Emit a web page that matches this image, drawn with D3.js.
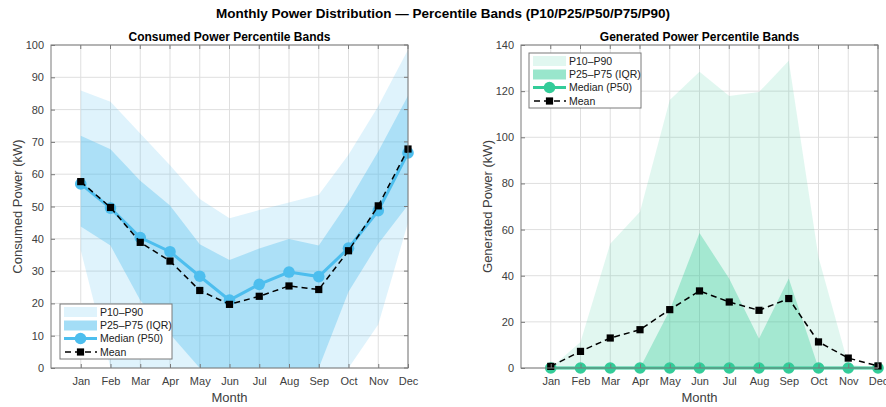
<!DOCTYPE html>
<html>
<head>
<meta charset="utf-8">
<script src="https://cdn.jsdelivr.net/npm/d3@7"></script>
<style>
  html, body { margin: 0; padding: 0; background: #fff; }
  svg { display: block; font-family: "Liberation Sans", Arial, Helvetica, sans-serif; }
</style>
</head>
<body>
<svg id="chart" width="886" height="407"></svg>
<script>
// Month labels shared by both panels
const months = ["Jan","Feb","Mar","Apr","May","Jun","Jul","Aug","Sep","Oct","Nov","Dec"];

// Consumed power percentiles (kW)
const consP10  = [36.5, 0, 0, 0, 0, 0, 0, 0, 0, 0, 13.5, 45];
const consP25  = [43.8, 37.9, 21, 10.5, 0, 0, 0, 0, 0, 23.6, 38.5, 50.5];
const consP50  = [57.0, 49.5, 40.4, 36.0, 28.4, 21.0, 25.9, 29.7, 28.3, 37.1, 48.7, 66.6];
const consP75  = [71.9, 67.7, 58.0, 50.3, 38.3, 33.4, 37.0, 39.9, 37.9, 51.5, 67.0, 84.3];
const consP90  = [85.9, 82.4, 72.6, 62.8, 52.3, 46.4, 48.9, 51.2, 53.6, 66.0, 81.0, 98.5];
const consMean = [57.7, 49.7, 38.9, 33.1, 24.0, 19.7, 22.2, 25.4, 24.3, 36.3, 50.2, 67.8];

// Generated power percentiles (kW)
const genP10  = [0, 0, 0, 0, 0, 0, 0, 0, 0, 0, 0, 0];
const genP25  = [0, 0, 0, 0, 0, 0, 0, 0, 0, 0, 0, 0];
const genP50  = [0, 0, 0, 0, 0, 0, 0, 0, 0, 0, 0, 0];
const genP75  = [0, 0, 0, 0, 25, 58.5, 38.7, 12.7, 38.8, 0, 0, 0];
const genP90  = [0, 11.3, 53.9, 67.7, 116.2, 128.4, 117.9, 119.6, 133.2, 48, 1.5, 0];
const genMean = [0.7, 7.2, 13.0, 16.6, 25.3, 33.4, 28.6, 25.0, 30.1, 11.3, 4.3, 0.9];

// Axis tick values
const consTicks = [0, 10, 20, 30, 40, 50, 60, 70, 80, 90, 100];
const genTicks  = [0, 20, 40, 60, 80, 100, 120, 140];

const svg = d3.select("#chart");

svg.append("text")
  .attr("x", 443).attr("y", 18)
  .attr("text-anchor", "middle")
  .attr("font-size", 13.5).attr("font-weight", "bold").attr("fill", "#000")
  .text("Monthly Power Distribution \u2014 Percentile Bands (P10/P25/P50/P75/P90)");

function panel(opts) {
  const { left, right, top, bottom, yMax, ticks, title, ylabel, color,
          lightAlpha, iqrAlpha, p10, p25, p50, p75, p90, mean, legend } = opts;

  const x = d3.scaleLinear().domain([0, 12]).range([left, right]);
  const y = d3.scaleLinear().domain([0, yMax]).range([bottom, top]);
  const g = svg.append("g");
  const idx = d3.range(months.length);

  // grid
  g.append("g").selectAll("line.v").data(idx).join("line")
    .attr("x1", i => x(i + 1)).attr("x2", i => x(i + 1))
    .attr("y1", top).attr("y2", bottom)
    .attr("stroke", "#dfdfdf").attr("stroke-width", 1);
  g.append("g").selectAll("line.h").data(ticks).join("line")
    .attr("x1", left).attr("x2", right)
    .attr("y1", d => y(d)).attr("y2", d => y(d))
    .attr("stroke", "#dfdfdf").attr("stroke-width", 1);

  // percentile bands
  const band = (lo, hi) => d3.area()
    .x(i => x(i + 1)).y0(i => y(lo[i])).y1(i => y(hi[i]))(idx);
  g.append("path").attr("d", band(p10, p90))
    .attr("fill", color).attr("fill-opacity", lightAlpha);
  g.append("path").attr("d", band(p25, p75))
    .attr("fill", color).attr("fill-opacity", iqrAlpha);

  // median line with circle markers
  const line = arr => d3.line().x(i => x(i + 1)).y(i => y(arr[i]))(idx);
  g.append("path").attr("d", line(p50))
    .attr("fill", "none").attr("stroke", color).attr("stroke-width", 3);
  g.append("g").selectAll("circle").data(idx).join("circle")
    .attr("cx", i => x(i + 1)).attr("cy", i => y(p50[i])).attr("r", 5.8)
    .attr("fill", color);

  // mean dashed line with square markers
  g.append("path").attr("d", line(mean))
    .attr("fill", "none").attr("stroke", "#000").attr("stroke-width", 1.5)
    .attr("stroke-dasharray", "6,4");
  g.append("g").selectAll("rect").data(idx).join("rect")
    .attr("x", i => x(i + 1) - 3.6).attr("y", i => y(mean[i]) - 3.6)
    .attr("width", 7.2).attr("height", 7.2).attr("fill", "#000");

  // axes box
  const axCol = "#7a7a7a";
  g.append("rect").attr("x", left).attr("y", top)
    .attr("width", right - left).attr("height", bottom - top)
    .attr("fill", "none").attr("stroke", axCol).attr("stroke-width", 1);

  const xAxis = d3.axisBottom(x).tickValues(d3.range(1, 13))
    .tickFormat(d => months[d - 1]).tickSizeInner(-4).tickSizeOuter(0).tickPadding(9);
  const yAxis = d3.axisLeft(y).tickValues(ticks)
    .tickSizeInner(-4).tickSizeOuter(0).tickPadding(7);
  const xa = g.append("g").attr("transform", `translate(0,${bottom})`).call(xAxis);
  const ya = g.append("g").attr("transform", `translate(${left},0)`).call(yAxis);
  [xa, ya].forEach(a => {
    a.select(".domain").remove();
    a.selectAll(".tick line").attr("stroke", axCol);
    a.selectAll(".tick text").attr("fill", "#404040").attr("font-size", 11)
      .attr("font-family", "Liberation Sans, Arial, sans-serif");
  });
  // ticks mirrored on the top and right edges
  g.append("g").selectAll("line").data(d3.range(1, 13)).join("line")
    .attr("x1", d => x(d)).attr("x2", d => x(d)).attr("y1", top).attr("y2", top + 4)
    .attr("stroke", axCol);
  g.append("g").selectAll("line").data(ticks).join("line")
    .attr("x1", right).attr("x2", right - 4).attr("y1", d => y(d)).attr("y2", d => y(d))
    .attr("stroke", axCol);

  // titles and labels
  g.append("text").attr("x", (left + right) / 2).attr("y", top - 4)
    .attr("text-anchor", "middle").attr("font-size", 12).attr("font-weight", "bold")
    .attr("fill", "#000").text(title);
  g.append("text").attr("x", (left + right) / 2).attr("y", bottom + 34)
    .attr("text-anchor", "middle").attr("font-size", 13).attr("fill", "#404040")
    .text("Month");
  g.append("text")
    .attr("transform", `translate(${left - 29},${(top + bottom) / 2}) rotate(-90)`)
    .attr("text-anchor", "middle").attr("font-size", 13).attr("fill", "#404040")
    .text(ylabel);

  // legend
  const L = g.append("g").attr("transform", `translate(${legend.x},${legend.y})`);
  L.append("rect").attr("width", 112).attr("height", 55)
    .attr("fill", "#fff").attr("stroke", "#7a7a7a").attr("stroke-width", 1);
  const rows = [8, 21.5, 34.5, 48];
  const labels = ["P10\u2013P90", "P25\u2013P75 (IQR)", "Median (P50)", "Mean"];
  L.append("rect").attr("x", 4).attr("y", rows[0] - 5).attr("width", 33).attr("height", 10)
    .attr("fill", color).attr("fill-opacity", lightAlpha);
  L.append("rect").attr("x", 4).attr("y", rows[1] - 5).attr("width", 33).attr("height", 10)
    .attr("fill", color).attr("fill-opacity", lightAlpha + iqrAlpha * (1 - lightAlpha) + 0.05);
  L.append("line").attr("x1", 4).attr("x2", 37).attr("y1", rows[2]).attr("y2", rows[2])
    .attr("stroke", color).attr("stroke-width", 3);
  L.append("circle").attr("cx", 20.5).attr("cy", rows[2]).attr("r", 5.8).attr("fill", color);
  L.append("line").attr("x1", 4).attr("x2", 37).attr("y1", rows[3]).attr("y2", rows[3])
    .attr("stroke", "#000").attr("stroke-width", 1.5).attr("stroke-dasharray", "6,4").attr("stroke-dashoffset", -1);
  L.append("rect").attr("x", 20.5 - 3.6).attr("y", rows[3] - 3.6)
    .attr("width", 7.2).attr("height", 7.2).attr("fill", "#000");
  L.selectAll("text.lab").data(labels).join("text")
    .attr("x", 40).attr("y", (d, i) => rows[i]).attr("dy", "0.35em")
    .attr("font-size", 10.5).attr("fill", "#222").text(d => d);
}

panel({
  left: 51, right: 408, top: 45, bottom: 368, yMax: 100, ticks: consTicks,
  title: "Consumed Power Percentile Bands", ylabel: "Consumed Power (kW)",
  color: "#4DBEEE", lightAlpha: 0.18, iqrAlpha: 0.35,
  p10: consP10, p25: consP25, p50: consP50, p75: consP75, p90: consP90, mean: consMean,
  legend: { x: 60, y: 304 }
});

panel({
  left: 521, right: 878, top: 45, bottom: 368, yMax: 140, ticks: genTicks,
  title: "Generated Power Percentile Bands", ylabel: "Generated Power (kW)",
  color: "#33CC99", lightAlpha: 0.15, iqrAlpha: 0.35,
  p10: genP10, p25: genP25, p50: genP50, p75: genP75, p90: genP90, mean: genMean,
  legend: { x: 529, y: 53 }
});
</script>
</body>
</html>
